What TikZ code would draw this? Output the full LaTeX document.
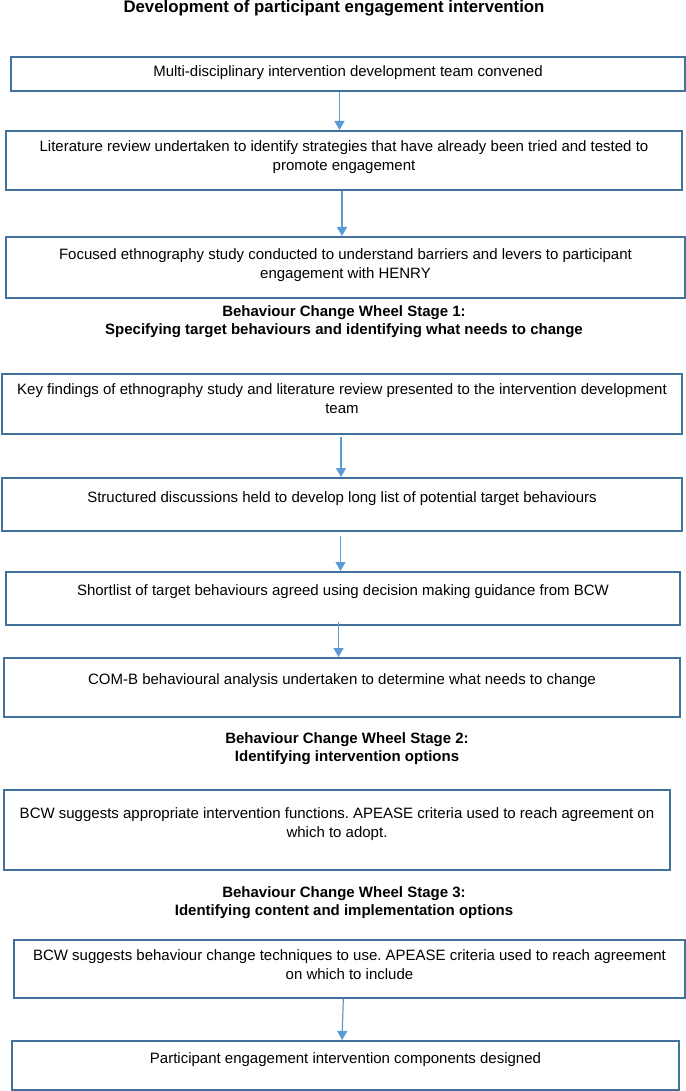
\documentclass[tikz,border=0pt]{standalone}
\usepackage{fontspec}
\setmainfont{Liberation Sans}
\usetikzlibrary{arrows.meta}
\definecolor{boxblue}{HTML}{41719C}
\definecolor{flowblue}{HTML}{5B9BD5}
\frenchspacing
\newlength{\pxu}
\setlength{\pxu}{0.5pt}
% width, height, first baseline, text
\newcommand{\boxtxt}[4]{\parbox[c][#2\pxu][t]{#1\pxu}{\centering\rule{0pt}{#3\pxu}#4}}
\tikzset{
  stagebox/.style={draw=boxblue, line width=1pt, inner sep=0pt, anchor=north west, font=\fontsize{7.5}{9.5}\selectfont},
  heading/.style={align=center, inner sep=0pt, font=\fontsize{7.5}{9}\selectfont\bfseries},
  flow/.style={draw=flowblue, line width=0.6pt, -{Triangle[length=4.5pt,width=5pt]}}
}
\begin{document}
\begin{tikzpicture}[x=0.5pt,y=-0.5pt]
\useasboundingbox (0,0) rectangle (685,1091);
\node[heading, font=\fontsize{8.4}{10}\selectfont\bfseries] (title) at (334,8) {Development of participant engagement intervention};
% before the BCW
\node[stagebox] (b1) at (10,56) {\boxtxt{674}{34}{20}{Multi-disciplinary intervention development team convened}};
\node[stagebox] (b2) at (5,130) {\boxtxt{676}{59}{21}{Literature review undertaken to identify strategies that have already been tried and tested to\\ promote engagement}};
\node[stagebox] (b3) at (5,236) {\boxtxt{679}{61}{22}{Focused ethnography study conducted to understand barriers and levers to participant\\ engagement with HENRY}};
% stage 1
\node[heading] (bcw1) at (344,322) {Behaviour Change Wheel Stage 1:\\ Specifying target behaviours and identifying what needs to change};
\node[stagebox] (b4) at (1,373) {\boxtxt{680}{60}{20}{Key findings of ethnography study and literature review presented to the intervention development\\ team}};
\node[stagebox] (b5) at (1,477) {\boxtxt{680}{53}{24}{Structured discussions held to develop long list of potential target behaviours}};
\node[stagebox] (b6) at (5,571) {\boxtxt{674}{53}{23}{Shortlist of target behaviours agreed using decision making guidance from BCW}};
\node[stagebox] (b7) at (3,657) {\boxtxt{676}{59}{26}{COM-B behavioural analysis undertaken to determine what needs to change}};
% stage 2
\node[heading] (bcw2) at (347,748.5) {Behaviour Change Wheel Stage 2:\\ Identifying intervention options};
\node[stagebox] (b8) at (3,789) {\boxtxt{666}{80}{28}{BCW suggests appropriate intervention functions. APEASE criteria used to reach agreement on\\ which to adopt.}};
% stage 3
\node[heading] (bcw3) at (344,903) {Behaviour Change Wheel Stage 3:\\ Identifying content and implementation options};
\node[stagebox] (b9) at (13,939) {\boxtxt{671}{58}{20}{BCW suggests behaviour change techniques to use. APEASE criteria used to reach agreement\\ on which to include}};
\node[stagebox] (b10) at (11,1040) {\boxtxt{667}{49}{22}{Participant engagement intervention components designed}};
% arrows
\draw[flow] (b1.south -| 339.5,0) -- (b2.north -| 339.5,0);
\draw[flow] (b2.south -| 342,0) -- (b3.north -| 342,0);
\draw[flow] ([yshift=-1pt]b4.south -| 341,0) -- (b5.north -| 341,0);
\draw[flow] ([yshift=-2pt]b5.south -| 340.5,0) -- (b6.north -| 340.5,0);
\draw[flow] ([yshift=2pt]b6.south -| 338.5,0) -- (b7.north -| 338.5,0);
\draw[flow] (b9.south -| 343.3,0) -- (b10.north -| 342,0);
\end{tikzpicture}
\end{document}
